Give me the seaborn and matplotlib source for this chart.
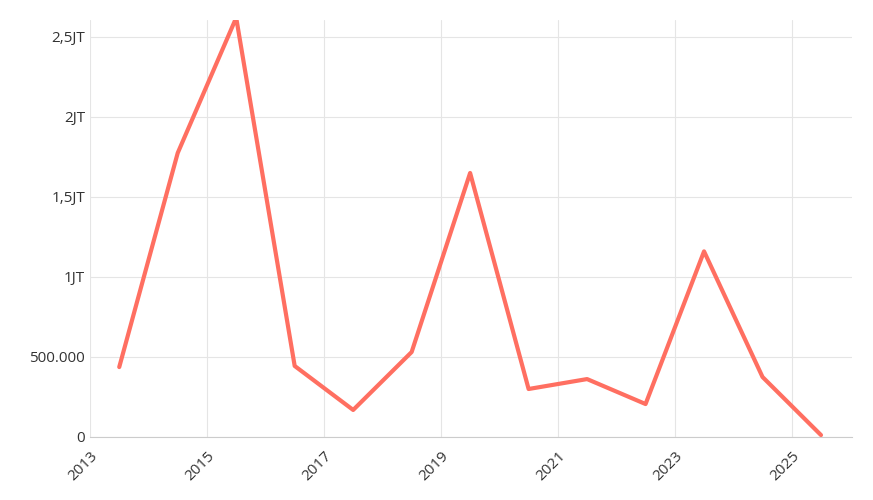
import matplotlib
matplotlib.use("Agg")
import matplotlib.pyplot as plt
import seaborn as sns
import pandas as pd
from matplotlib.ticker import FuncFormatter

years = [2013.5, 2014.5, 2015.5, 2016.5, 2017.5, 2018.5, 2019.5,
         2020.5, 2021.5, 2022.5, 2023.5, 2024.5, 2025.5]
values = [437000, 1775000, 2620000, 444000, 169000, 531000, 1650000,
          300000, 362000, 206000, 1160000, 375000, 12000]
x_ticks = [2013, 2015, 2017, 2019, 2021, 2023, 2025]
y_ticks = [0, 500000, 1000000, 1500000, 2000000, 2500000]

df = pd.DataFrame({"year": years, "value": values})

sns.set_style("white")
plt.rcParams['font.family'] = ['Open Sans', 'DejaVu Sans']

fig = plt.figure(figsize=(8.73, 5.0), dpi=100)
ax = fig.add_axes([90 / 873, 1 - 437 / 500, (852 - 90) / 873, (437 - 20) / 500])
sns.lineplot(data=df, x="year", y="value", ax=ax, color="#ff6f61", linewidth=3)

def fmt(v, pos):
    if v == 0:
        return "0"
    if v >= 1000000:
        s = f"{v / 1000000:g}".replace(".", ",")
        return s + "JT"
    return f"{int(v):,}".replace(",", ".")

ax.set_xlim(2013, 2026.03)
ax.set_ylim(0, 2606000)
ax.set_xticks(x_ticks)
ax.set_yticks(y_ticks)
ax.yaxis.set_major_formatter(FuncFormatter(fmt))
ax.set_xticklabels([str(t) for t in x_ticks], rotation=45, ha="right", rotation_mode="anchor")
ax.grid(True, color="#e5e5e5", linewidth=0.8)
ax.set_xlabel("")
ax.set_ylabel("")
for s in ["top", "right", "left"]:
    ax.spines[s].set_visible(False)
ax.spines["bottom"].set_color("#cccccc")
ax.tick_params(axis="both", labelsize=11, colors="#333333", length=0)
ax.tick_params(axis="x", length=5, color="#cccccc")

fig.savefig("out.png", dpi=100)
